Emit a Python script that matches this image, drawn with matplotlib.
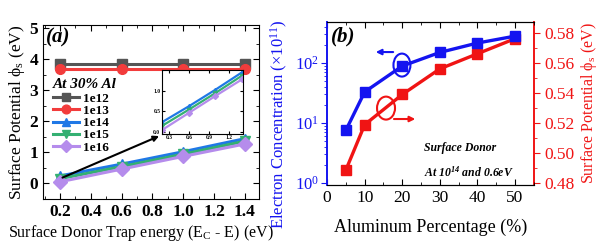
import numpy as np
import matplotlib
matplotlib.use("Agg")
import matplotlib.pyplot as plt
from matplotlib.patches import Ellipse, FancyArrowPatch
from matplotlib.ticker import MultipleLocator, LogLocator, NullFormatter

plt.rcParams.update({
    "font.family": ["Liberation Serif", "DejaVu Serif"],
    "mathtext.fontset": "custom",
    "mathtext.rm": "Liberation Serif",
    "mathtext.it": "Liberation Serif:italic",
    "mathtext.bf": "Liberation Serif:bold",
})

# ---- panel (a) data
trap_energy = [0.2, 0.6, 1.0, 1.4]
densities = ["1e12", "1e13", "1e14", "1e15", "1e16"]
phi_s = {
    "1e12": [3.86, 3.86, 3.86, 3.86],
    "1e13": [3.68, 3.68, 3.68, 3.68],
    "1e14": [0.24, 0.62, 1.02, 1.44],
    "1e15": [0.15, 0.54, 0.94, 1.36],
    "1e16": [0.05, 0.46, 0.87, 1.27],
}
styles = {
    "1e12": ("#555555", "s"),
    "1e13": ("#f23c3c", "o"),
    "1e14": ("#1f78e6", "^"),
    "1e15": ("#34b072", "v"),
    "1e16": ("#b58cec", "D"),
}

# ---- panel (b) data
al_pct = [5, 10, 20, 30, 40, 50]
electron_conc = [7.6, 33, 89, 150, 215, 280]
phi_s_al = [0.489, 0.519, 0.539, 0.556, 0.566, 0.576]

fig = plt.figure(figsize=(6.08, 2.48), dpi=100)

# ================= (a)
ax = fig.add_axes([0.0707, 0.198, 0.355, 0.701])
for d in densities:
    col, mk = styles[d]
    ax.plot(trap_energy, phi_s[d], color=col, marker=mk, lw=2.2, ms=7, label=d)
ax.set_xlim(0.09, 1.49)
ax.set_ylim(-0.5, 5.1)
ax.xaxis.set_major_locator(MultipleLocator(0.2))
ax.xaxis.set_minor_locator(MultipleLocator(0.1))
ax.yaxis.set_major_locator(MultipleLocator(1))
ax.yaxis.set_minor_locator(MultipleLocator(0.5))
ax.tick_params(which="both", direction="in", top=True, right=True, labelsize=12.5)
ax.tick_params(which="major", length=4)
ax.tick_params(which="minor", length=2)
for lab in ax.get_xticklabels() + ax.get_yticklabels():
    lab.set_fontweight("bold")
ax.set_ylabel(r"Surface Potential $\mathregular{\phi_s}$ (eV)", fontsize=12.5, labelpad=2)
fig.text(0.232, 0.062, r"Surface Donor Trap energy (E$_\mathregular{C}$ - E) (eV)",
         ha="center", va="center", fontsize=11.5)
ax.text(0.015, 0.985, "(a)", transform=ax.transAxes, ha="left", va="top",
        fontsize=15, fontweight="bold", fontstyle="italic")
leg = ax.legend(loc="upper left", bbox_to_anchor=(0.02, 0.725), frameon=False,
                prop={"weight": "bold", "size": 9.5}, handlelength=2.0, markerscale=0.9,
                labelspacing=0.0, borderaxespad=0, handletextpad=0.3,
                title="At 30% Al",
                title_fontproperties={"weight": "bold", "style": "italic", "size": 11})
leg._legend_box.align = "left"
leg._legend_box.sep = 1

# arrow from cluster to inset
ax.annotate("", xy=(0.86, 1.56), xytext=(0.2, 0.15),
            arrowprops=dict(arrowstyle="-|>", color="black", lw=1.5, mutation_scale=8))

# inset
axi = fig.add_axes([0.266, 0.460, 0.134, 0.258])
for d in ["1e14", "1e15", "1e16"]:
    col, mk = styles[d]
    axi.plot(trap_energy, phi_s[d], color=col, marker=mk, lw=1.6, ms=3)
axi.set_xlim(0.19, 1.42)
axi.set_ylim(-0.05, 1.5)
axi.set_xticks([0.3, 0.6, 0.9, 1.2])
axi.set_yticks([0.0, 0.5, 1.0])
axi.tick_params(direction="in", top=True, right=True, labelsize=4, length=2, pad=1)
for lab in axi.get_xticklabels() + axi.get_yticklabels():
    lab.set_fontweight("bold")

# ================= (b)
blue = "#1414f0"
red = "#f01414"
bx = fig.add_axes([0.538, 0.254, 0.340, 0.657])
bx2 = bx.twinx()
bx.plot(al_pct, electron_conc, color=blue, marker="s", lw=2.4, ms=6.5, zorder=3)
bx2.plot(al_pct, phi_s_al, color=red, marker="s", lw=2.4, ms=6.5)
bx.set_zorder(bx2.get_zorder() + 1)
bx.patch.set_visible(False)

bx.set_yscale("log")
bx.set_ylim(0.93, 480)
bx.set_xlim(0, 55)
bx2.set_ylim(0.479, 0.587)
bx.xaxis.set_major_locator(MultipleLocator(10))
bx.xaxis.set_minor_locator(MultipleLocator(5))
bx.yaxis.set_major_locator(LogLocator(base=10, numticks=5))
bx.yaxis.set_minor_locator(LogLocator(base=10, subs=np.arange(2, 10), numticks=10))
bx.yaxis.set_minor_formatter(NullFormatter())
bx2.yaxis.set_major_locator(MultipleLocator(0.02))
bx2.yaxis.set_minor_locator(MultipleLocator(0.01))
bx2.yaxis.set_major_formatter(matplotlib.ticker.FormatStrFormatter("%.2f"))

bx.tick_params(axis="x", which="both", direction="in", top=True, labelsize=12.5)
bx.tick_params(axis="y", which="both", direction="out", colors=blue, labelsize=12, pad=2)
bx2.tick_params(axis="y", which="both", direction="out", colors=red, labelsize=12.5)
bx.tick_params(which="major", length=4)
bx.tick_params(which="minor", length=2)
bx2.tick_params(which="major", length=4)
bx2.tick_params(which="minor", length=2)
bx.spines["left"].set_color(blue)
bx.spines["left"].set_linewidth(1.4)
bx2.spines["left"].set_visible(False)
bx2.spines["right"].set_color(red)
bx2.spines["right"].set_linewidth(1.4)
bx.spines["right"].set_visible(False)

bx.set_ylabel(r"Electron Concentration ($\mathregular{\times10^{11}}$)", color=blue,
              fontsize=12)
bx.yaxis.set_label_coords(-0.178, 0.37)
bx2.set_ylabel(r"Surface Potential $\mathregular{\phi_s}$ (eV)", color=red,
               fontsize=11.5, labelpad=3)
bx.set_xlabel("Aluminum Percentage (%)", fontsize=13, labelpad=9)
bx.text(0.02, 0.97, "(b)", transform=bx.transAxes, ha="left", va="top",
        fontsize=15, fontweight="bold", fontstyle="italic")
bx.text(0.468, 0.227, "Surface Donor", transform=bx.transAxes, ha="left", va="center",
        fontsize=8.5, fontweight="bold", fontstyle="italic")
bx.text(0.468, 0.08, r"At 10$^{\mathregular{14}}$ and 0.6eV", transform=bx.transAxes,
        ha="left", va="center", fontsize=8.5, fontweight="bold", fontstyle="italic")

# axis-indicator ellipses with arrows
bx.add_patch(Ellipse((0.362, 0.736), 0.082, 0.141, transform=bx.transAxes,
                     fill=False, ec=blue, lw=1.5, zorder=4))
bx.add_patch(FancyArrowPatch((0.333, 0.816), (0.222, 0.816), transform=bx.transAxes,
                             arrowstyle="-|>", color=blue, lw=1.5, mutation_scale=8, zorder=4))
bx.add_patch(Ellipse((0.285, 0.472), 0.087, 0.141, transform=bx.transAxes,
                     fill=False, ec=red, lw=1.5, zorder=4))
bx.add_patch(FancyArrowPatch((0.31, 0.405), (0.44, 0.405), transform=bx.transAxes,
                             arrowstyle="-|>", color=red, lw=1.5, mutation_scale=8, zorder=4))

fig.savefig("out.png", dpi=100)
